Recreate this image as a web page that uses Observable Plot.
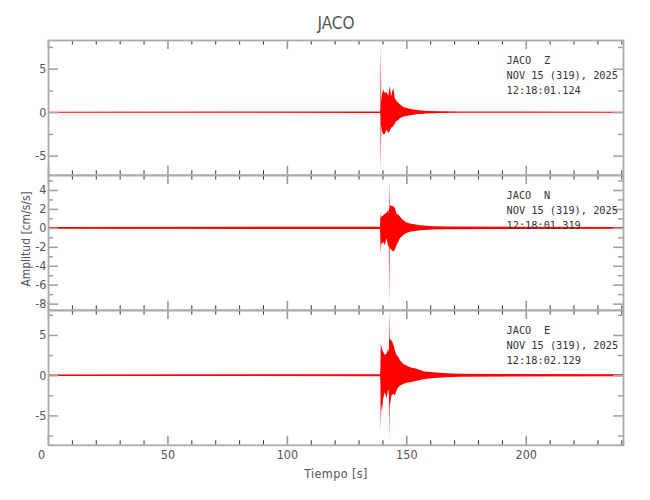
<!DOCTYPE html>
<html>
<head>
<meta charset="utf-8">
<script src="https://cdn.jsdelivr.net/npm/d3@7"></script>
<script src="https://cdn.jsdelivr.net/npm/@observablehq/plot@0.6"></script>
<style>
  body { margin: 0; background: #fff; }
  #chart { position: relative; width: 650px; height: 500px; background: #fff; overflow: hidden; }
  #chart svg { position: absolute; left: 0; }
</style>
</head>
<body>
<div id="chart"></div>
<script>
// ---------- texts ----------
const stationName = "JACO";
const components = ["Z", "N", "E"];
const dateLabel = "NOV 15 (319), 2025";
const startTimes = ["12:18:01.124", "12:18:01.319", "12:18:02.129"];
const xAxisLabel = "Tiempo [s]";
const yAxisLabel = "Amplitud [cm/s/s]";

// ---------- x ticks ----------
const xDomain = [0, 240.7];
const xMajorTicks = [0, 50, 100, 150, 200];
const xMinorTicks = [10, 20, 30, 40, 60, 70, 80, 90, 110, 120, 130, 140, 160, 170, 180, 190, 210, 220, 230, 240];

// ---------- y ticks per component ----------
const zDomain = [-7.2, 8.3];
const zMajorTicks = [-5, 0, 5];
const zMinorTicks = [-2.5, 2.5, 7.5];
const nDomain = [-8.65, 5.58];
const nMajorTicks = [-8, -6, -4, -2, 0, 2, 4];
const nMinorTicks = [-7, -5, -3, -1, 1, 3, 5];
const eDomain = [-8.65, 8.1];
const eMajorTicks = [-5, 0, 5];
const eMinorTicks = [-7.5, -2.5, 2.5, 7.5];

// ---------- waveform envelopes (time s, max, min) ----------
const zTime = [0, 139.0, 139.15, 139.3, 139.5, 139.8, 140.3, 141.0, 141.7, 142.4, 143.1, 143.6, 144.2, 144.6, 145.2, 145.9, 146.6, 147.3, 148.7, 150.0, 151.5, 154.3, 158.5, 164.0, 172.0, 240.7];
const zMax  = [0.06, 0.08, 0.4, 7.9, 1.2, 2.0, 2.6, 2.2, 2.3, 1.9, 3.0, 1.8, 2.5, 2.7, 1.6, 1.3, 1.1, 0.9, 0.6, 0.5, 0.4, 0.25, 0.15, 0.1, 0.07, 0.06];
const zMin  = [-0.06, -0.08, -0.4, -6.8, -1.5, -2.2, -2.5, -2.5, -2.0, -2.4, -2.1, -1.8, -1.7, -1.6, -1.3, -1.0, -0.9, -0.7, -0.5, -0.45, -0.35, -0.25, -0.15, -0.1, -0.07, -0.06];

const nTime = [0, 139.0, 139.15, 139.3, 139.5, 140.3, 141.0, 141.7, 142.4, 142.7, 142.85, 143.0, 143.3, 143.8, 144.5, 145.2, 145.9, 146.6, 147.3, 148.7, 150.0, 151.5, 155.7, 161.3, 166.8, 240.7];
const nMax  = [0.1, 0.12, 1.8, 1.0, 1.2, 1.3, 1.5, 1.6, 1.9, 1.5, 5.1, 2.0, 2.4, 2.3, 2.3, 2.1, 1.5, 1.4, 1.2, 0.8, 0.6, 0.45, 0.28, 0.18, 0.14, 0.1];
const nMin  = [-0.1, -0.12, -1.5, -2.7, -1.7, -1.5, -1.8, -1.1, -2.0, -1.8, -8.25, -2.0, -2.2, -2.35, -2.5, -2.3, -1.8, -1.5, -1.1, -0.75, -0.55, -0.4, -0.25, -0.18, -0.14, -0.1];

const eTime = [0, 139.0, 139.15, 139.3, 139.5, 139.8, 140.3, 141.0, 141.7, 142.4, 142.7, 142.85, 143.0, 143.1, 143.8, 144.5, 145.2, 145.9, 146.6, 147.3, 148.7, 150.1, 151.5, 154.3, 157.1, 161.3, 166.8, 172.4, 240.7];
const eMax  = [0.1, 0.12, 1.0, 3.9, 3.7, 3.2, 2.9, 2.5, 2.7, 3.3, 2.8, 8.1, 4.5, 4.5, 4.3, 3.9, 3.1, 2.5, 2.3, 1.9, 1.4, 1.2, 1.0, 0.8, 0.5, 0.35, 0.25, 0.18, 0.12];
const eMin  = [-0.1, -0.12, -1.0, -7.1, -3.7, -4.5, -2.9, -2.1, -2.9, -1.7, -2.5, -8.1, -3.7, -3.7, -2.5, -2.3, -2.5, -1.9, -1.5, -1.3, -1.1, -0.95, -0.87, -0.7, -0.5, -0.35, -0.25, -0.18, -0.12];

// ---------- layout / style ----------
const W = 650, ML = 48, MR = 27, PH = 134.8;
const PW = W - ML - MR;
const FONT = '"Liberation Sans Narrow","DejaVu Sans Condensed","Liberation Sans",sans-serif';
const MONO = '"DejaVu Sans Mono","Liberation Mono",monospace';
const RED = "#ff0000";

function panel(cfg) {
  const rows = cfg.time.map((t, i) => ({t, hi: cfg.max[i], lo: cfg.min[i]}));
  const tickTop = (data, len, stroke, sw) => Plot.ruleX(data, {stroke, strokeWidth: sw, insetBottom: PH - len});
  const tickBot = (data, len, stroke, sw) => Plot.ruleX(data, {stroke, strokeWidth: sw, insetTop: PH - len});
  const tickL = (data, len, stroke, sw) => Plot.ruleY(data, {stroke, strokeWidth: sw, insetRight: PW - len});
  const tickR = (data, len, stroke, sw) => Plot.ruleY(data, {stroke, strokeWidth: sw, insetLeft: PW - len});
  const txt = {frameAnchor: "top-left", textAnchor: "start", lineAnchor: "top", fontFamily: MONO, fontSize: 10.3, fill: "#333", text: d => d};
  const marks = [
    Plot.areaY(rows, {x: "t", y1: "lo", y2: "hi", fill: RED, curve: "linear"}),
    tickTop(xMinorTicks, 4.5, "#333", 1), tickBot(xMinorTicks, 4.5, "#333", 1),
    tickTop(xMajorTicks, 9, "#9a9a9a", 1.6), tickBot(xMajorTicks, 9, "#9a9a9a", 1.6),
    tickL(cfg.minor, 5, "#9a9a9a", 1.4), tickR(cfg.minor, 5, "#9a9a9a", 1.4),
    tickL(cfg.major, 10, "#a5a5a5", 1.6), tickR(cfg.major, 10, "#a5a5a5", 1.6),
    Plot.frame({stroke: "#ababab", strokeWidth: 1.8}),
    Plot.axisY(cfg.major, {anchor: "left", tickSize: 0, tickPadding: 2, label: null, tickFormat: d => String(d)}),
    Plot.text([stationName], {...txt, dx: 458, dy: 16.5}),
    Plot.text([cfg.comp], {...txt, dx: 495.6, dy: 16.5}),
    Plot.text([dateLabel], {...txt, dx: 458, dy: 31.5}),
    Plot.text([cfg.start], {...txt, dx: 458, dy: 46.5})
  ];
  if (cfg.title) {
    marks.push(Plot.text([cfg.title], {frameAnchor: "top", lineAnchor: "top", dy: -23.3, fontSize: 17, fill: "#555", text: d => d}));
  }
  if (cfg.yLabel) {
    marks.push(Plot.text([cfg.yLabel], {frameAnchor: "left", textAnchor: "middle", lineAnchor: "middle", rotate: -90, dx: -22, dy: -4, fontSize: 12, fill: "#555", text: d => d}));
  }
  if (cfg.xAxis) {
    marks.push(Plot.axisX(xMajorTicks.filter(d => d !== 0), {anchor: "bottom", tickSize: 0, tickPadding: 5, label: null}));
    marks.push(Plot.axisX(xMajorTicks.filter(d => d === 0), {anchor: "bottom", tickSize: 0, tickPadding: 5, label: null, dx: -7}));
    marks.push(Plot.text([xAxisLabel], {frameAnchor: "bottom", lineAnchor: "top", dy: 24, fontSize: 12.5, fill: "#555", text: d => d}));
  }
  const svg = Plot.plot({
    width: W,
    height: cfg.mt + PH + cfg.mb,
    marginLeft: ML, marginRight: MR, marginTop: cfg.mt, marginBottom: cfg.mb,
    x: {domain: xDomain, axis: cfg.xAxis ? undefined : null},
    y: {domain: cfg.domain},
    style: {fontFamily: FONT, fontSize: "12.5px", color: "#555", background: "transparent", overflow: "visible"},
    marks
  });
  svg.style.top = cfg.top + "px";
  d3.select(svg).selectAll("text").filter(function() { return this.textContent === xAxisLabel; }).style("letter-spacing", "0.4px");
  return svg;
}

const chart = document.getElementById("chart");
chart.append(panel({time: zTime, max: zMax, min: zMin, domain: zDomain, major: zMajorTicks, minor: zMinorTicks,
  comp: components[0], start: startTimes[0], top: 0, mt: 40, mb: 10, title: stationName}));
chart.append(panel({time: nTime, max: nMax, min: nMin, domain: nDomain, major: nMajorTicks, minor: nMinorTicks,
  comp: components[1], start: startTimes[1], top: 164.8, mt: 10, mb: 10, yLabel: yAxisLabel}));
chart.append(panel({time: eTime, max: eMax, min: eMin, domain: eDomain, major: eMajorTicks, minor: eMinorTicks,
  comp: components[2], start: startTimes[2], top: 299.5, mt: 10, mb: 55.7, xAxis: true}));
</script>
</body>
</html>
